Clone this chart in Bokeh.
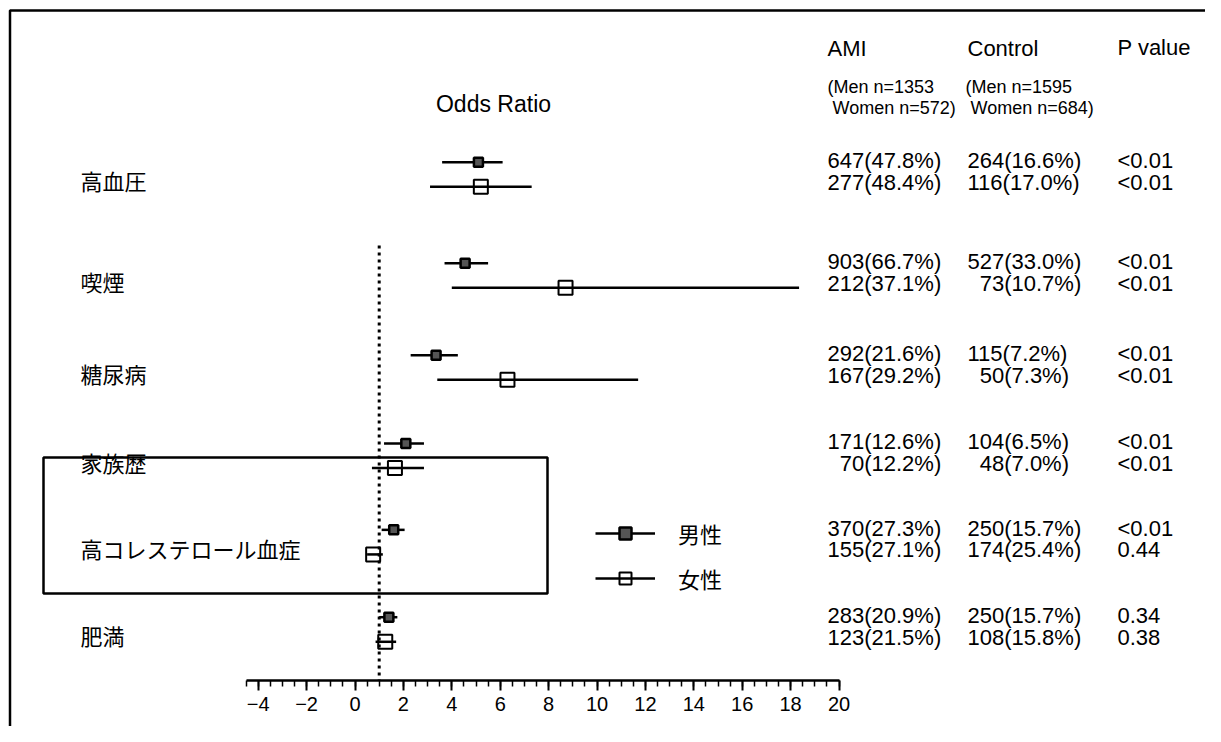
from bokeh.plotting import figure
from bokeh.models import (Range1d, LinearAxis, SingleIntervalTicker, BoxAnnotation,
                          Label, Legend, LegendItem, ColumnDataSource)
from bokeh.core.properties import value
from bokeh.embed import file_html
from bokeh.resources import INLINE

# ---------------- data ----------------
categories = ["高血圧", "喫煙", "糖尿病", "家族歴", "高コレステロール血症", "肥満"]

men_or = [5.1, 4.55, 3.35, 2.1, 1.6, 1.4]
men_lo = [3.6, 3.7, 2.3, 1.2, 1.1, 1.0]
men_hi = [6.1, 5.5, 4.25, 2.85, 2.05, 1.75]

women_or = [5.2, 8.7, 6.3, 1.65, 0.75, 1.25]
women_lo = [3.1, 4.0, 3.4, 0.7, 0.5, 0.85]
women_hi = [7.3, 18.35, 11.7, 2.85, 1.15, 1.7]

ami_men = ["647(47.8%)", "903(66.7%)", "292(21.6%)", "171(12.6%)", "370(27.3%)", "283(20.9%)"]
ami_women = ["277(48.4%)", "212(37.1%)", "167(29.2%)", "\u200770(12.2%)", "155(27.1%)", "123(21.5%)"]
ctrl_men = ["264(16.6%)", "527(33.0%)", "115(7.2%)", "104(6.5%)", "250(15.7%)", "250(15.7%)"]
ctrl_women = ["116(17.0%)", "\u200773(10.7%)", "\u200750(7.3%)", "\u200748(7.0%)", "174(25.4%)", "108(15.8%)"]
p_men = ["<0.01", "<0.01", "<0.01", "<0.01", "<0.01", "0.34"]
p_women = ["<0.01", "<0.01", "<0.01", "<0.01", "0.44", "0.38"]

axis_ticks_interval = 2
axis_bounds = (-4.5, 20)
reference_or = 1

# ---------------- layout helpers ----------------
W, H = 1205, 726
PX_PER_UNIT = 24.2
X0_PAGE = 354.5          # pixel x of OR = 0
ROW_PX = 91.0
R0_PAGE = 174.0          # pixel y of first row centre

def X(px):
    return (px - X0_PAGE) / PX_PER_UNIT

def Y(py):
    return (py - R0_PAGE) / ROW_PX

row_pos = [0.0, 1.11, 2.12, 3.09, 4.04, 5.0]
SUB = 0.135
men_y = [r - SUB for r in row_pos]
women_y = [r + SUB for r in row_pos]
tab_men_y = [r - 0.035 - 0.12 for r in row_pos]
tab_women_y = [r - 0.035 + 0.12 for r in row_pos]
label_y = [r + 0.065 for r in row_pos]

p = figure(width=W, height=H, output_backend="svg", toolbar_location=None,
           x_range=Range1d(X(0), X(W)), y_range=Range1d(Y(H), Y(0)),
           x_axis_type=None, y_axis_type=None, min_border=0)
p.grid.visible = False
p.outline_line_color = None
p.background_fill_color = "white"
p.border_fill_color = "white"

# outer frame (only top and left edges fall inside the picture)
p.add_layout(BoxAnnotation(left=X(9.5), right=X(W + 40), top=Y(10), bottom=Y(H + 40),
                           fill_alpha=0, line_color="black", line_alpha=1, line_width=2.5))

# highlight box around 高コレステロール血症
p.add_layout(BoxAnnotation(left=X(43), right=X(547), top=Y(457), bottom=Y(593),
                           fill_alpha=0, line_color="black", line_alpha=1, line_width=2.5))

# reference line at OR = 1
p.segment(x0=[reference_or], x1=[reference_or], y0=[Y(245)], y1=[Y(680)],
          line_color="black", line_width=3, line_dash="3 4")

men_src = ColumnDataSource(dict(y=men_y, m=men_or, lo=men_lo, hi=men_hi))
women_src = ColumnDataSource(dict(y=women_y, m=women_or, lo=women_lo, hi=women_hi))

men_seg = p.segment(x0="lo", x1="hi", y0="y", y1="y", source=men_src,
                    line_color="black", line_width=2.5)
men_sq = p.scatter(x="m", y="y", source=men_src, marker="square", size=9,
                   line_color="black", line_width=2.5, fill_color="#555555", fill_alpha=1)
women_seg = p.segment(x0="lo", x1="hi", y0="y", y1="y", source=women_src,
                      line_color="black", line_width=2.5)
women_sq = p.scatter(x="m", y="y", source=women_src, marker="square", size=14,
                     line_color="black", line_width=2, fill_color="white", fill_alpha=0)

# x axis
ax = LinearAxis(ticker=SingleIntervalTicker(interval=axis_ticks_interval, num_minor_ticks=4),
                fixed_location=Y(680), bounds=axis_bounds)
ax.axis_line_width = 2.5
ax.major_tick_line_width = 2
ax.major_tick_in = 0
ax.major_tick_out = 10
ax.minor_tick_line_width = 1.5
ax.minor_tick_in = 0
ax.minor_tick_out = 6
ax.major_label_standoff = 6
ax.major_label_text_font = "Liberation Sans"
ax.major_label_text_font_size = "20px"
ax.major_label_text_color = "black"
ax.major_label_overrides = {-4: "\u22124", -2: "\u22122"}
p.add_layout(ax, "below")

# category labels
p.text(x=[X(80)] * len(categories), y=label_y, text=categories,
       text_font=value("Noto Sans CJK JP"), text_font_size=value("22px"),
       text_baseline="middle", text_align="left", text_color="black")

# table columns
def col(xpx, texts, ys):
    p.text(x=[X(xpx)] * len(texts), y=ys, text=texts,
           text_font=value("Liberation Sans"), text_font_size=value("22px"),
           text_baseline="middle", text_align="left", text_color="black")

col(827, ami_men, tab_men_y)
col(827, ami_women, tab_women_y)
col(967, ctrl_men, tab_men_y)
col(967, ctrl_women, tab_women_y)
col(1117, p_men, tab_men_y)
col(1117, p_women, tab_women_y)

# headers
def lab(txt, xpx, ypx, size, align="left", font="Liberation Sans"):
    p.add_layout(Label(x=X(xpx), y=Y(ypx), text=txt, text_font=font,
                       text_font_size=size, text_baseline="middle", text_align=align,
                       text_color="black"))

lab("AMI", 827, 48, "22px")
lab("Control", 967, 48, "22px")
lab("P value", 1117, 47, "22px")
lab("(Men n=1353", 827, 86, "18px")
lab("(Men n=1595", 965, 86, "18px")
lab("Women n=572)", 832, 107, "18px")
lab("Women n=684)", 970, 107, "18px")
lab("Odds Ratio", 493, 103, "23px", align="center")

# legend
legend = Legend(items=[LegendItem(label="男性", renderers=[men_seg, men_sq]),
                       LegendItem(label="女性", renderers=[women_seg, women_sq])],
                location=(585, 122), orientation="vertical")
legend.glyph_width = 60
legend.glyph_height = 30
legend.spacing = 13
legend.padding = 10
legend.margin = 0
legend.label_standoff = 23
legend.label_text_font = "Noto Sans CJK JP"
legend.label_text_font_size = "22px"
legend.label_text_color = "black"
legend.label_height = 30
legend.border_line_alpha = 0
legend.background_fill_alpha = 0
p.add_layout(legend, "center")

open("out.html", "w").write(file_html(p, INLINE))
